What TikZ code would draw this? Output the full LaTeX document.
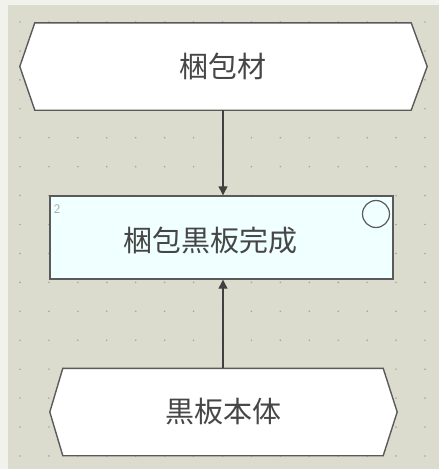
\documentclass[tikz,border=0pt]{standalone}
\usepackage{fontspec}
\newfontfamily\jpfont{Noto Sans CJK JP}
\usetikzlibrary{arrows.meta,backgrounds}
\definecolor{beige}{RGB}{220,220,206}
\definecolor{outer}{RGB}{242,242,236}
\definecolor{dotc}{RGB}{165,165,155}
\definecolor{edge}{RGB}{90,90,90}
\definecolor{txt}{RGB}{70,70,70}
\definecolor{boxfill}{RGB}{240,255,255}
\tikzset{
  jptext/.style={font=\jpfont\fontsize{29}{29}\selectfont, text=txt, inner sep=0pt},
  hexnode/.style={jptext, minimum height=87pt},
  hexline/.style={draw=edge, line width=1.4pt, fill=white, line join=miter},
  procbox/.style={jptext, draw=edge, line width=1.4pt, fill=boxfill, minimum width=343pt, minimum height=83pt},
  flow/.style={draw=black!75, line width=1.2pt, -{Triangle[width=9pt,length=9pt]}},
  ringmark/.style={draw=edge, line width=1.2pt}
}
\begin{document}
\begin{tikzpicture}[x=1pt,y=-1pt]
\useasboundingbox (0,0) rectangle (439,469);
% nodes
\node[hexnode, minimum width=376pt] (top) at (223,66.5) {梱包材};
\node[procbox] (box) at (221.5,237.5) {};
\node[jptext] (boxtext) at (210,241) {梱包黒板完成};
\node[font=\sffamily\fontsize{13}{13}\selectfont, text=dotc, inner sep=0pt] (num) at (57,209) {2};
\node[ringmark, circle, minimum size=27pt, inner sep=0pt] (circ) at (376,214) {};
\node[hexnode, minimum width=320pt] (bot) at (223,412) {黒板本体};
\begin{scope}[on background layer]
  \fill[outer] (0,0) rectangle (439,469);
  \fill[beige] (8,5) rectangle (439,469);
  \foreach \i in {0,...,14}{
    \foreach \j in {0,...,15}{
      \fill[dotc] ({20+28.93*\i},{22+28.93*\j}) circle (0.9pt);
    }
  }
  \path[hexline] (top.north west) -- (top.north east) -- ([xshift=16pt]top.east) -- (top.south east) -- (top.south west) -- ([xshift=-15pt]top.west) -- cycle;
  \path[hexline] (bot.north west) -- (bot.north east) -- ([xshift=14pt]bot.east) -- (bot.south east) -- (bot.south west) -- ([xshift=-13pt]bot.west) -- cycle;
\end{scope}
\draw[flow] (top.south) -- (top.south |- box.north);
\draw[flow] (bot.north) -- (bot.north |- box.south);
\end{tikzpicture}
\end{document}
